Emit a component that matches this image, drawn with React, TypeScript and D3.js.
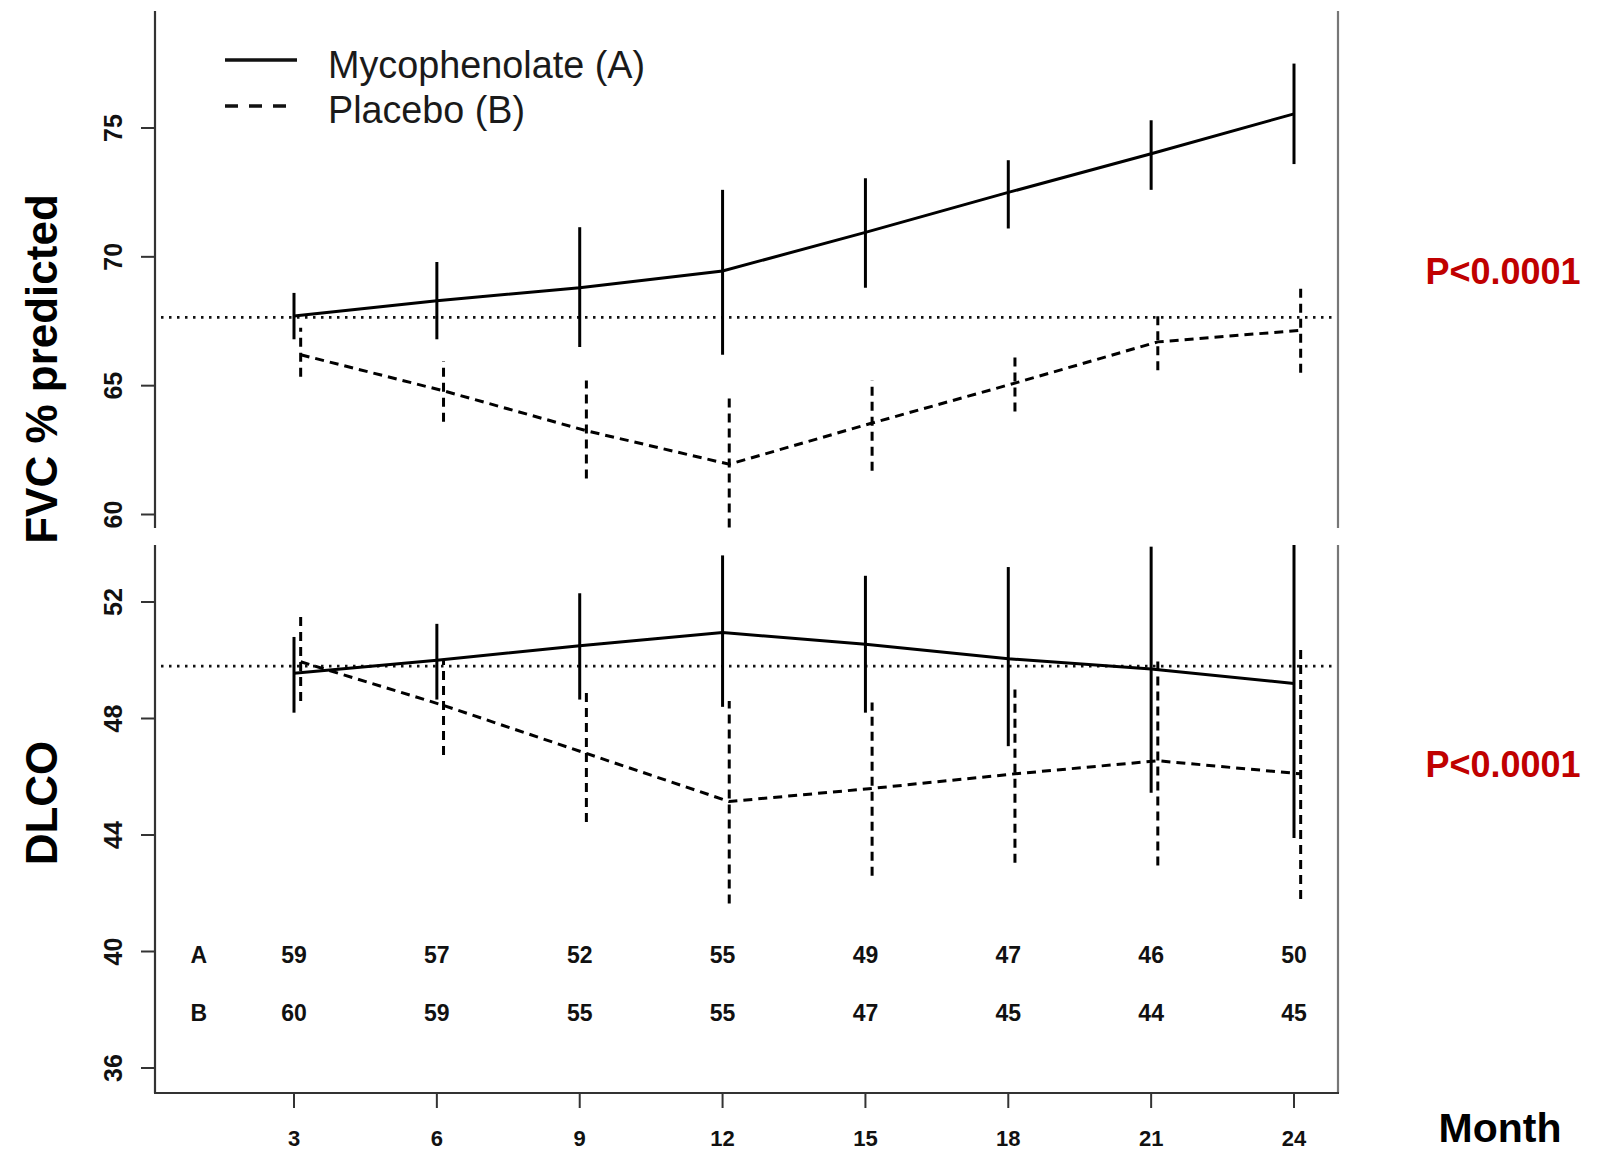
import React, { useEffect } from 'react';
import * as d3 from 'd3';

const months = [3, 6, 9, 12, 15, 18, 21, 24];

// FVC % predicted
const fvcMmfMean = [67.7, 68.3, 68.8, 69.45, 70.95, 72.5, 74.0, 75.55];
const fvcMmfLo = [66.8, 66.8, 66.5, 66.2, 68.8, 71.1, 72.6, 73.6];
const fvcMmfHi = [68.6, 69.8, 71.15, 72.6, 73.05, 73.75, 75.3, 77.5];
const fvcPboMean = [66.2, 64.8, 63.25, 61.95, 63.55, 65.1, 66.7, 67.15];
const fvcPboLo = [65.35, 63.6, 61.4, 59.5, 61.7, 64.0, 65.6, 65.5];
const fvcPboHi = [67.25, 65.95, 65.2, 64.5, 65.2, 66.1, 67.75, 68.85];
const fvcBaseline = 67.65;
const fvcTicks = [60, 65, 70, 75];

// DLCO
const dlcoMmfMean = [49.55, 50.0, 50.5, 50.95, 50.55, 50.05, 49.7, 49.2];
const dlcoMmfLo = [48.2, 48.65, 48.65, 48.4, 48.2, 47.05, 45.45, 43.9];
const dlcoMmfHi = [50.8, 51.25, 52.3, 53.6, 52.9, 53.2, 53.9, 54.2];
const dlcoPboMean = [49.95, 48.45, 46.8, 45.15, 45.6, 46.1, 46.55, 46.1];
const dlcoPboLo = [48.6, 46.75, 44.45, 41.65, 42.6, 43.05, 42.95, 41.8];
const dlcoPboHi = [51.55, 50.0, 49.0, 48.6, 48.55, 49.0, 50.15, 50.35];
const dlcoBaseline = 49.8;
const dlcoTicks = [36, 40, 44, 48, 52];

// numbers at risk
const nA = [59, 57, 52, 55, 49, 47, 46, 50];
const nB = [60, 59, 55, 55, 47, 45, 44, 45];

const pLabel = 'P<0.0001';
const pboOffset = 0.14; // placebo drawn a touch to the right

const W = 1598, H = 1151;
const axisX = 155, rightX = 1338;
const topY0 = 11, topY1 = 528;
const botY0 = 545, botY1 = 1093;

const x = d3.scaleLinear().domain([3, 24]).range([294, 1294]);
const yTop = d3.scaleLinear().domain([60, 75]).range([514.5, 128]);
const yBot = d3.scaleLinear().domain([36, 52]).range([1068, 602]);

const font = 'Liberation Sans, Arial, sans-serif';
const dash = '9,6';

type PanelProps = {
  y: d3.ScaleLinear<number, number>,
  mMean: number[], mLo: number[], mHi: number[],
  pMean: number[], pLo: number[], pHi: number[],
  base: number, ticks: number[], y0: number, y1: number, id: string,
};

const Panel: React.FC<PanelProps> = ({ y, mMean, mLo, mHi, pMean, pLo, pHi, base, ticks, y0, y1, id }) => {
  const line = d3.line<number>()
    .x((d, i) => x(months[i]))
    .y(d => y(d));
  const linePbo = d3.line<number>()
    .x((d, i) => x(months[i] + pboOffset))
    .y(d => y(d));
  return (
    <g>
      <defs>
        <clipPath id={id}>
          <rect x={axisX} y={y0} width={rightX - axisX} height={y1 - y0} />
        </clipPath>
      </defs>
      <line x1={axisX} x2={axisX} y1={y0} y2={y1} stroke="#333" strokeWidth={2.2} />
      <line x1={rightX} x2={rightX} y1={y0} y2={y1} stroke="#777" strokeWidth={2.2} />
      {ticks.map(t => (
        <g key={t}>
          <line x1={axisX - 14} x2={axisX} y1={y(t)} y2={y(t)} stroke="#333" strokeWidth={2} />
          <text transform={`translate(${113},${y(t)}) rotate(-90)`} textAnchor="middle"
            dominantBaseline="central" fontFamily={font} fontWeight="bold" fontSize={25} fill="#111">{t}</text>
        </g>
      ))}
      <g clipPath={`url(#${id})`}>
        <line x1={axisX + 6} x2={rightX - 2} y1={y(base)} y2={y(base)} stroke="#111"
          strokeWidth={2.6} strokeDasharray="2.5,5.5" />
        <path d={line(mMean) || ''} fill="none" stroke="#000" strokeWidth={3} />
        <path d={linePbo(pMean) || ''} fill="none" stroke="#000" strokeWidth={3} strokeDasharray={dash} />
        {months.map((m, i) => (
          <g key={m}>
            <line x1={x(m)} x2={x(m)} y1={y(mLo[i])} y2={y(mHi[i])} stroke="#000" strokeWidth={3} />
            <line x1={x(m + pboOffset)} x2={x(m + pboOffset)} y1={y(pLo[i])} y2={y(pHi[i])}
              stroke="#000" strokeWidth={3} strokeDasharray={dash} />
          </g>
        ))}
      </g>
    </g>
  );
};

export default function App() {
  useEffect(() => {
    document.body.style.margin = '0';
  }, []);
  const riskText = (t: string | number, m: number, v: number) => (
    <text x={x(m)} y={yBot(v) + 3} textAnchor="middle" dominantBaseline="central" fontFamily={font}
      fontWeight="bold" fontSize={23} fill="#111">{t}</text>
  );
  return (
    <svg width={W} height={H} style={{ display: 'block', background: '#fff' }}>
      <rect width={W} height={H} fill="#fff" />
      <Panel y={yTop} mMean={fvcMmfMean} mLo={fvcMmfLo} mHi={fvcMmfHi}
        pMean={fvcPboMean} pLo={fvcPboLo} pHi={fvcPboHi} base={fvcBaseline}
        ticks={fvcTicks} y0={topY0} y1={topY1} id="clipTop" />
      <Panel y={yBot} mMean={dlcoMmfMean} mLo={dlcoMmfLo} mHi={dlcoMmfHi}
        pMean={dlcoPboMean} pLo={dlcoPboLo} pHi={dlcoPboHi} base={dlcoBaseline}
        ticks={dlcoTicks} y0={botY0} y1={botY1} id="clipBot" />

      {/* x axis */}
      <line x1={axisX - 1} x2={rightX + 1} y1={botY1} y2={botY1} stroke="#333" strokeWidth={2.2} />
      {months.map(m => (
        <g key={m}>
          <line x1={x(m)} x2={x(m)} y1={botY1} y2={botY1 + 15} stroke="#333" strokeWidth={2} />
          <text x={x(m)} y={1146} textAnchor="middle" fontFamily={font} fontWeight="bold"
            fontSize={22} fill="#111">{m}</text>
        </g>
      ))}

      {/* numbers at risk */}
      {riskText('A', 1, 40)}
      {riskText('B', 1, 38)}
      {months.map((m, i) => (
        <g key={m}>
          {riskText(nA[i], m, 40)}
          {riskText(nB[i], m, 38)}
        </g>
      ))}

      {/* legend */}
      <line x1={225} x2={297} y1={60} y2={60} stroke="#111" strokeWidth={3.5} />
      <text x={328} y={78} fontFamily={font} fontSize={38} fill="#1a1a1a" textLength={317}
        lengthAdjust="spacingAndGlyphs">Mycophenolate (A)</text>
      <line x1={225} x2={297} y1={106} y2={106} stroke="#111" strokeWidth={3.5} strokeDasharray="13,11" />
      <text x={328} y={123} fontFamily={font} fontSize={38} fill="#1a1a1a" textLength={197}
        lengthAdjust="spacingAndGlyphs">Placebo (B)</text>

      {/* axis titles */}
      <text transform="translate(57,369) rotate(-90)" textAnchor="middle" fontFamily={font}
        fontWeight="bold" fontSize={44} fill="#000">FVC % predicted</text>
      <text transform="translate(57,803) rotate(-90)" textAnchor="middle" fontFamily={font}
        fontWeight="bold" fontSize={44} fill="#000">DLCO</text>
      <text x={1500} y={1142} textAnchor="middle" fontFamily={font} fontWeight="bold"
        fontSize={41} fill="#000">Month</text>

      {/* p values */}
      <text x={1503} y={284} textAnchor="middle" fontFamily={font} fontWeight="bold"
        fontSize={36} fill="#c00000">{pLabel}</text>
      <text x={1503} y={777} textAnchor="middle" fontFamily={font} fontWeight="bold"
        fontSize={36} fill="#c00000">{pLabel}</text>
    </svg>
  );
}
